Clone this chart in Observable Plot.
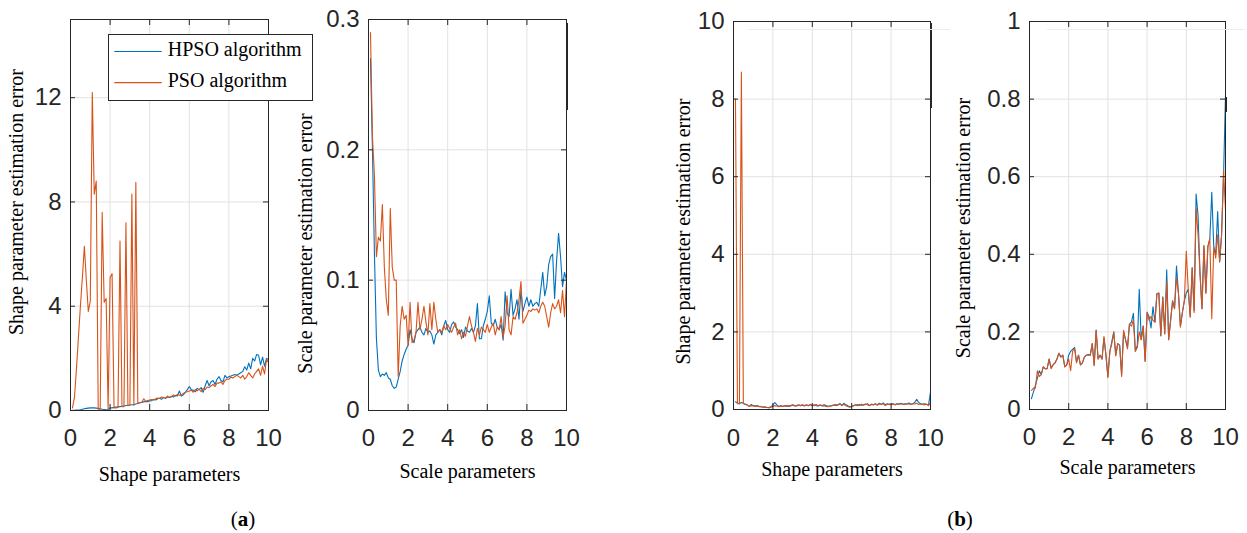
<!DOCTYPE html>
<html>
<head>
<meta charset="utf-8">
<script src="https://cdn.jsdelivr.net/npm/d3@7"></script>
<script src="https://cdn.jsdelivr.net/npm/@observablehq/plot@0.6"></script>
<style>
  body { margin: 0; background: #fff; }
  #wrap { position: relative; width: 1247px; height: 533px; background: #fff; overflow: hidden; }
  .panel { position: absolute; top: 0; }
  .cap { position: absolute; top: 509px; width: 100px; text-align: center; line-height: 20px;
         font-family: "Liberation Serif", "Times New Roman", serif; font-size: 21px; color: #000; }
  #legend { position: absolute; left: 108px; top: 34px; width: 205px; height: 67px; box-sizing: border-box;
            border: 1px solid #262626; background: #fff; }
  #legend svg { position: absolute; left: 0; top: 0; }
  .art { position: absolute; }
</style>
</head>
<body>
<div id="wrap"></div>
<script>
// ---------- data ----------
const params = [0.1,0.2,0.3,0.4,0.5,0.6,0.7,0.8,0.9,1.0,
  1.1,1.2,1.3,1.4,1.5,1.6,1.7,1.8,1.9,2.0,
  2.1,2.2,2.3,2.4,2.5,2.6,2.7,2.8,2.9,3.0,
  3.1,3.2,3.3,3.4,3.5,3.6,3.7,3.8,3.9,4.0,
  4.1,4.2,4.3,4.4,4.5,4.6,4.7,4.8,4.9,5.0,
  5.1,5.2,5.3,5.4,5.5,5.6,5.7,5.8,5.9,6.0,
  6.1,6.2,6.3,6.4,6.5,6.6,6.7,6.8,6.9,7.0,
  7.1,7.2,7.3,7.4,7.5,7.6,7.7,7.8,7.9,8.0,
  8.1,8.2,8.3,8.4,8.5,8.6,8.7,8.8,8.9,9.0,
  9.1,9.2,9.3,9.4,9.5,9.6,9.7,9.8,9.9,10.0];

// (a) shape parameter estimation error
const hpsoShapeA = [0.01,0.01,0.02,0.02,0.03,0.05,0.07,0.08,0.09,0.10,
  0.10,0.10,0.09,0.08,0.07,0.05,0.04,0.03,0.03,0.10,
  0.10,0.12,0.13,0.14,0.15,0.16,0.17,0.19,0.20,0.21,
  0.22,0.22,0.25,0.27,0.30,0.31,0.33,0.35,0.34,0.37,
  0.38,0.42,0.40,0.45,0.47,0.43,0.50,0.47,0.52,0.50,
  0.55,0.52,0.58,0.56,0.75,0.55,0.60,0.70,0.80,0.92,
  0.80,0.78,0.72,0.85,0.80,0.88,0.70,0.95,1.15,0.95,
  1.10,1.15,1.00,1.20,1.30,1.15,1.10,1.35,1.25,1.30,
  1.32,1.35,1.38,1.35,1.40,1.45,1.50,1.68,1.55,1.82,
  1.60,2.00,1.90,2.15,2.12,1.75,2.05,1.70,2.00,1.95];
const psoShapeA = [0.10,0.50,1.60,2.80,4.00,5.10,6.30,5.00,3.80,4.20,
  12.20,8.30,8.80,0.05,0.05,7.60,4.15,4.30,0.05,5.10,
  5.25,0.10,0.10,0.12,6.50,0.15,0.15,7.20,0.18,0.20,
  8.30,0.20,8.75,0.28,0.30,0.32,0.45,0.35,0.38,0.40,
  0.42,0.40,0.45,0.48,0.46,0.52,0.50,0.47,0.55,0.50,
  0.52,0.60,0.55,0.62,0.58,0.60,0.65,0.70,0.72,0.75,
  0.78,0.70,0.80,0.75,0.82,0.72,0.85,0.80,0.90,0.88,
  0.95,1.00,0.92,1.05,1.05,1.10,1.00,1.15,1.20,1.20,
  1.28,1.25,1.30,1.35,1.30,1.25,1.35,1.20,1.30,1.45,
  1.35,1.25,1.40,1.50,1.60,1.35,1.70,1.40,1.95,1.85];

// (a) scale parameter estimation error
const hpsoScaleA = [0.270,0.200,0.120,0.055,0.031,0.026,0.028,0.027,0.029,0.025,
  0.024,0.019,0.017,0.018,0.024,0.030,0.038,0.043,0.047,0.050,
  0.062,0.055,0.052,0.060,0.062,0.064,0.060,0.058,0.063,0.060,
  0.061,0.058,0.051,0.058,0.060,0.062,0.058,0.065,0.069,0.062,
  0.060,0.066,0.068,0.064,0.062,0.059,0.062,0.056,0.064,0.061,
  0.060,0.063,0.060,0.065,0.082,0.055,0.055,0.065,0.070,0.076,
  0.088,0.067,0.065,0.070,0.064,0.062,0.066,0.054,0.091,0.075,
  0.072,0.093,0.073,0.078,0.085,0.070,0.092,0.076,0.082,0.087,
  0.080,0.085,0.080,0.082,0.083,0.080,0.093,0.106,0.088,0.095,
  0.112,0.118,0.120,0.086,0.115,0.136,0.118,0.095,0.106,0.100];
const psoScaleA = [0.290,0.210,0.180,0.118,0.133,0.130,0.158,0.110,0.085,0.073,
  0.155,0.110,0.100,0.100,0.026,0.065,0.080,0.070,0.073,0.050,
  0.083,0.052,0.054,0.060,0.083,0.062,0.070,0.080,0.068,0.058,
  0.082,0.062,0.083,0.070,0.060,0.062,0.060,0.065,0.062,0.066,
  0.063,0.060,0.064,0.067,0.058,0.062,0.055,0.060,0.057,0.065,
  0.072,0.065,0.060,0.053,0.063,0.058,0.064,0.062,0.060,0.066,
  0.060,0.064,0.067,0.058,0.064,0.062,0.072,0.056,0.065,0.088,
  0.062,0.058,0.072,0.070,0.075,0.085,0.099,0.067,0.070,0.073,
  0.077,0.076,0.078,0.077,0.078,0.075,0.080,0.083,0.080,0.072,
  0.064,0.075,0.082,0.078,0.080,0.085,0.075,0.092,0.072,0.100];

// (b) shape parameter estimation error
const hpsoShapeB = [0.20,0.17,0.15,0.18,0.16,0.13,0.12,0.08,0.13,0.10,
  0.09,0.10,0.08,0.07,0.06,0.06,0.05,0.05,0.07,0.12,
  0.18,0.12,0.08,0.10,0.08,0.09,0.10,0.08,0.10,0.12,
  0.10,0.09,0.11,0.10,0.12,0.10,0.11,0.10,0.12,0.10,
  0.12,0.10,0.09,0.11,0.10,0.12,0.10,0.08,0.09,0.10,
  0.12,0.10,0.13,0.15,0.10,0.16,0.12,0.10,0.07,0.08,
  0.10,0.12,0.10,0.13,0.11,0.12,0.14,0.12,0.10,0.13,
  0.12,0.14,0.12,0.16,0.13,0.17,0.12,0.15,0.13,0.14,
  0.15,0.12,0.15,0.14,0.16,0.13,0.15,0.14,0.17,0.14,
  0.15,0.18,0.26,0.18,0.15,0.14,0.15,0.13,0.12,0.45];
const psoShapeB = [8.00,0.15,0.15,8.70,0.15,0.14,0.12,0.08,0.10,0.09,
  0.08,0.09,0.07,0.08,0.06,0.07,0.05,0.04,0.06,0.08,
  0.10,0.09,0.07,0.09,0.08,0.10,0.08,0.10,0.09,0.11,
  0.09,0.10,0.12,0.10,0.11,0.09,0.12,0.10,0.13,0.11,
  0.10,0.13,0.10,0.12,0.09,0.10,0.08,0.07,0.09,0.10,
  0.11,0.13,0.11,0.14,0.12,0.13,0.10,0.08,0.06,0.07,
  0.10,0.11,0.13,0.10,0.14,0.11,0.13,0.15,0.10,0.14,
  0.12,0.15,0.11,0.14,0.13,0.15,0.10,0.13,0.14,0.12,
  0.14,0.12,0.15,0.13,0.15,0.14,0.13,0.15,0.14,0.13,
  0.15,0.14,0.16,0.13,0.14,0.13,0.12,0.14,0.10,0.18];

// (b) scale parameter estimation error
const hpsoScaleB = [0.028,0.045,0.062,0.080,0.100,0.090,0.110,0.105,0.105,0.130,
  0.108,0.115,0.120,0.130,0.145,0.135,0.140,0.110,0.115,0.140,
  0.150,0.155,0.160,0.122,0.140,0.115,0.120,0.135,0.140,0.142,
  0.140,0.170,0.115,0.205,0.130,0.140,0.130,0.185,0.140,0.085,
  0.150,0.175,0.200,0.140,0.170,0.165,0.090,0.200,0.180,0.160,
  0.220,0.225,0.248,0.150,0.165,0.310,0.180,0.215,0.125,0.250,
  0.240,0.210,0.265,0.225,0.298,0.300,0.190,0.290,0.195,0.360,
  0.180,0.230,0.280,0.260,0.370,0.300,0.215,0.250,0.280,0.300,
  0.310,0.240,0.365,0.255,0.555,0.500,0.350,0.260,0.420,0.300,
  0.420,0.440,0.560,0.420,0.400,0.510,0.380,0.450,0.600,0.810];
const psoScaleB = [0.049,0.055,0.055,0.100,0.085,0.090,0.110,0.105,0.105,0.130,
  0.105,0.115,0.120,0.130,0.145,0.135,0.140,0.110,0.115,0.130,
  0.100,0.150,0.158,0.120,0.140,0.115,0.120,0.135,0.140,0.140,
  0.140,0.170,0.113,0.204,0.130,0.140,0.130,0.188,0.140,0.082,
  0.150,0.170,0.199,0.138,0.170,0.165,0.085,0.204,0.180,0.156,
  0.220,0.215,0.230,0.150,0.160,0.200,0.180,0.215,0.124,0.251,
  0.230,0.240,0.230,0.225,0.298,0.300,0.190,0.290,0.195,0.330,
  0.180,0.230,0.280,0.260,0.340,0.300,0.212,0.250,0.280,0.408,
  0.310,0.238,0.365,0.250,0.520,0.450,0.350,0.260,0.423,0.300,
  0.420,0.440,0.234,0.420,0.390,0.450,0.380,0.450,0.616,0.515];

const xTicks = [0, 2, 4, 6, 8, 10];
const yTicksShapeA = [0, 4, 8, 12];
const yTicksScaleA = [0, 0.1, 0.2, 0.3];
const yTicksShapeB = [0, 2, 4, 6, 8, 10];
const yTicksScaleB = [0, 0.2, 0.4, 0.6, 0.8, 1];
const seriesNames = ["HPSO algorithm", "PSO algorithm"];
const xLabels = ["Shape parameters", "Scale parameters"];
const yLabels = ["Shape parameter estimation error", "Scale parameter estimation error"];
const captions = ["a", "b"];

// ---------- styling ----------
const BLUE = "#0072BD", ORANGE = "#D95319", AX = "#262626", GRID = "#e2e2e2";
const SANS = "'Liberation Sans', Arial, Helvetica, sans-serif";
const SERIF = "'Liberation Serif', 'Times New Roman', serif";
const fmt = d3.format("~g");

const panels = [
  {left: 290, width: 300, mL: 78, mR: 24, mT: 19, mB: 90, yDomain: [0, 0.3], yTicks: yTicksScaleA,
   hpso: hpsoScaleA, pso: psoScaleA, xLabel: xLabels[1], yLabel: yLabels[1],
   xLabDy: 67.5, yLabDx: -62.7, yLabDy: 28.5, xPad: 18},
  {left: 660, width: 290, mL: 73, mR: 20, mT: 21, mB: 91, yDomain: [0, 10], yTicks: yTicksShapeB,
   hpso: hpsoShapeB, pso: psoShapeB, xLabel: xLabels[0], yLabel: yLabels[0],
   xLabDy: 66.5, yLabDx: -50.4, yLabDy: 16, xPad: 19},
  {left: 950, width: 297, mL: 79, mR: 22, mT: 21, mB: 91, yDomain: [0, 1], yTicks: yTicksScaleB,
   hpso: hpsoScaleB, pso: psoScaleB, xLabel: xLabels[1], yLabel: yLabels[1],
   xLabDy: 64.5, yLabDx: -66.1, yLabDy: 12.5, xPad: 18},
  {left: 0, width: 320, mL: 70, mR: 52, mT: 19, mB: 90, yDomain: [0, 15], yTicks: yTicksShapeA,
   hpso: hpsoShapeA, pso: psoShapeA, xLabel: xLabels[0], yLabel: yLabels[0],
   xLabDy: 70.5, yLabDx: -53.7, yLabDy: -13, xPad: 18}
];

const wrap = document.getElementById("wrap");
const H = 500;

for (const p of panels) {
  const fw = p.width - p.mL - p.mR;
  const fh = H - p.mT - p.mB;
  const hp = params.map((x, i) => ({x, y: p.hpso[i]}));
  const ps = params.map((x, i) => ({x, y: p.pso[i]}));
  const chart = Plot.plot({
    width: p.width, height: H,
    marginLeft: p.mL, marginRight: p.mR, marginTop: p.mT, marginBottom: p.mB,
    style: {background: "transparent", overflow: "visible"},
    x: {domain: [0, 10]},
    y: {domain: p.yDomain},
    marks: [
      Plot.ruleX(xTicks, {x: d => d, stroke: GRID, strokeWidth: 1}),
      Plot.ruleY(p.yTicks, {y: d => d, stroke: GRID, strokeWidth: 1}),
      Plot.line(hp, {x: "x", y: "y", stroke: BLUE, strokeWidth: 1.1}),
      Plot.line(ps, {x: "x", y: "y", stroke: ORANGE, strokeWidth: 1.1}),
      Plot.frame({stroke: AX, strokeWidth: 1}),
      Plot.ruleX(xTicks, {x: d => d, stroke: AX, insetTop: fh - 6}),
      Plot.ruleX(xTicks, {x: d => d, stroke: AX, insetBottom: fh - 6}),
      Plot.ruleY(p.yTicks, {y: d => d, stroke: AX, insetRight: fw - 5}),
      Plot.ruleY(p.yTicks, {y: d => d, stroke: AX, insetLeft: fw - 5}),
      Plot.axisX({ticks: xTicks, tickSize: 0, tickPadding: p.xPad, tickFormat: fmt, label: null,
                  fontSize: 24, fontFamily: SANS, fill: AX}),
      Plot.axisY({ticks: p.yTicks, tickSize: 0, tickPadding: 9, tickFormat: fmt, label: null,
                  fontSize: 24, fontFamily: SANS, fill: AX}),
      Plot.text([p.xLabel], {text: d => d, frameAnchor: "bottom", textAnchor: "middle", dy: p.xLabDy,
                  fontSize: 20, fontFamily: SERIF, fill: "#000"}),
      Plot.text([p.yLabel], {text: d => d, frameAnchor: "left", textAnchor: "middle", rotate: -90,
                  dx: p.yLabDx, dy: p.yLabDy, fontSize: 20, fontFamily: SERIF, fill: "#000"})
    ]
  });
  const holder = document.createElement("div");
  holder.className = "panel";
  holder.style.left = p.left + "px";
  holder.appendChild(chart);
  wrap.appendChild(holder);
}

// small edge marks visible in the source figure
[[566, 23, 2, 87, "#262626"], [930, 23, 2, 85, "#262626"], [1225, 97, 2, 15, "#262626"],
 [748, 29, 202, 1, "#ececec"], [1047, 29, 198, 1, "#ececec"]].forEach(([l, t, w, h, c]) => {
  const d = document.createElement("div");
  d.className = "art";
  Object.assign(d.style, {left: l + "px", top: t + "px", width: w + "px", height: h + "px", background: c});
  wrap.appendChild(d);
});

// legend (panel a)
const legend = document.createElement("div");
legend.id = "legend";
const ns = "http://www.w3.org/2000/svg";
const lsvg = document.createElementNS(ns, "svg");
lsvg.setAttribute("width", 203);
lsvg.setAttribute("height", 65);
[[BLUE, 16.5, 21], [ORANGE, 47.7, 52.3]].forEach(([c, ly, ty], i) => {
  const ln = document.createElementNS(ns, "line");
  ln.setAttribute("x1", 5.3); ln.setAttribute("x2", 52.7);
  ln.setAttribute("y1", ly); ln.setAttribute("y2", ly);
  ln.setAttribute("stroke", c); ln.setAttribute("stroke-width", 1.2);
  lsvg.appendChild(ln);
  const tx = document.createElementNS(ns, "text");
  tx.setAttribute("x", 58.7); tx.setAttribute("y", ty);
  tx.setAttribute("font-family", SERIF); tx.setAttribute("font-size", 20);
  tx.setAttribute("fill", "#000");
  tx.textContent = seriesNames[i];
  lsvg.appendChild(tx);
});
legend.appendChild(lsvg);
wrap.appendChild(legend);

// captions
[[243, captions[0]], [960, captions[1]]].forEach(([cx, t]) => {
  const d = document.createElement("div");
  d.className = "cap";
  d.style.left = (cx - 50) + "px";
  d.innerHTML = "(<b>" + t + "</b>)";
  wrap.appendChild(d);
});
</script>
</body>
</html>
